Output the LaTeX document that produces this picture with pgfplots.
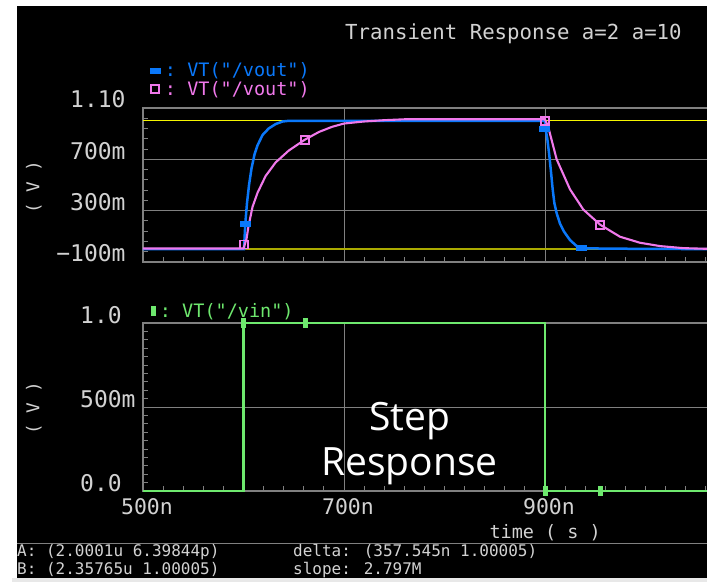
\documentclass[border=0pt]{standalone}
\usepackage{fontspec}
\usepackage{pgfplots}
\pgfplotsset{compat=1.18}
\newfontfamily\cad{DejaVu Sans Mono}
\newfontfamily\stepf{Open Sans}
\definecolor{gridc}{RGB}{128,128,128}
\definecolor{txt}{RGB}{210,210,210}
\definecolor{vblue}{RGB}{10,120,250}
\definecolor{vpink}{RGB}{240,120,235}
\definecolor{vgreen}{RGB}{110,232,110}
\definecolor{ylw}{RGB}{245,245,0}
\definecolor{olv}{RGB}{170,170,0}
\definecolor{stripc}{RGB}{232,232,232}

\pgfplotsset{
  cadaxis/.style={
    scale only axis, width=603pt, xmin=500, xmax=1100, clip=false,
    axis line style={draw=gridc, line width=1.2pt},
    grid=major, major grid style={draw=gridc, line width=0.9pt},
    tick pos=left, tick align=inside,
    major tick length=0pt, minor tick length=5pt,
    every tick/.style={draw=gridc, line width=0.9pt},
    minor x tick num=9,
    xtick={500,700,900,1100},
    ticklabel style={text=txt},
    yticklabel style={font=\cad\fontsize{23}{23}\selectfont, anchor=base west, inner sep=0pt},
    xticklabel style={font=\cad\fontsize{21.5}{21.5}\selectfont, anchor=north, inner sep=0pt, yshift=-7pt, xshift=4pt},
    ylabel={( V )},
    ylabel style={font=\cad\fontsize{17.7}{17.7}\selectfont, text=txt, anchor=center},
    legend style={draw=none, fill=none, inner sep=0pt, outer sep=0pt, row sep=1pt,
      font=\cad\fontsize{18.5}{18.5}\selectfont, nodes={inner sep=1pt},
      /tikz/every odd column/.append style={column sep=4pt}},
    legend cell align=left,
    legend image code/.code={\draw[#1] plot coordinates {(5pt,0pt)};},
  }
}

\begin{document}
\begin{tikzpicture}[x=1pt,y=1pt]
\fill[white] (0,0) rectangle (707,582);
\fill[black] (17,4) rectangle (707,576);
\fill[stripc] (12,0) rectangle (707,4);

% title
\node[anchor=base west, inner sep=0pt, text=txt, font=\cad\fontsize{20.7}{20.7}\selectfont] at (345,542.7) {Transient Response a=2 a=10};

%================ top panel
\begin{axis}[cadaxis,
  at={(143pt,320pt)}, anchor=south west, height=154pt,
  ymin=-0.1, ymax=1.1,
  ytick={-0.1,0.3,0.7,1.1},
  yticklabels={\llap{−}100m,300m,700m,1.10},
  yticklabel style={xshift=-73pt},
  minor y tick num=4,
  xticklabels={},
  ylabel style={at={(axis description cs:-0.181,0.487)}},
  legend style={at={(axis description cs:0.0116,1.30)}, anchor=north west},
]
% cursor lines
\addplot[forget plot, ylw, line width=1.3pt] coordinates {(500,1.0) (1100,1.0)};
\addplot[forget plot, olv, line width=1.6pt] coordinates {(500,0.0) (1100,0.0)};
% blue (a=10)
\addplot[forget plot, vblue, line width=2.5pt] coordinates {
(500,0) (600.5,0) (601.8,0.20) (603.5,0.36) (605.5,0.50) (608,0.63) (611,0.74)
(614,0.81) (619,0.89) (625,0.94) (632,0.975) (639,0.995) (645,1.0) (900,1.0)
(900.3,0.95) (902.3,0.86) (904.3,0.73) (906,0.60) (907.6,0.47) (909.3,0.36)
(911.6,0.28) (914.9,0.20) (918.9,0.137) (924.9,0.071) (931.5,0.024) (941.5,0.006)
(1000,0.002) (1100,0.0)};
% pink (a=2)
\addplot[forget plot, vpink, line width=2.1pt] coordinates {
(500,0.005) (600,0.005) (603,0.08) (605,0.18) (609,0.33) (614,0.44) (622,0.57)
(632,0.676) (645,0.768) (661,0.853) (675,0.913) (688,0.953) (700,0.979) (720,0.995)
(740,1.005) (760,1.012) (900,1.012) (903.3,0.95) (911.6,0.70) (924.9,0.466)
(938.2,0.308) (955,0.19) (974.6,0.097) (994.5,0.05) (1014.4,0.024) (1037.6,0.008)
(1060,0.003) (1100,0.0)};
% markers
\addplot[only marks, mark=square*, color=vblue, mark size=2.5pt, mark options={xscale=2}]
  coordinates {(601.8,0.20) (899.5,0.94) (936.5,0.01)};
\addlegendentry{\textcolor{vblue}{:\ VT("/vout")}}
\addplot[only marks, mark=square, color=vpink, mark size=4pt, mark options={line width=1.8pt}]
  coordinates {(600.2,0.037) (661,0.853) (900,1.0) (955,0.19)};
\addlegendentry{\textcolor{vpink}{:\ VT("/vout")}}
\end{axis}

%================ bottom panel
\begin{axis}[cadaxis,
  at={(143pt,91pt)}, anchor=south west, height=168pt,
  ymin=0, ymax=1,
  ytick={0,0.5,1},
  yticklabels={0.0,500m,1.0},
  yticklabel style={xshift=-63pt},
  minor y tick num=9,
  xticklabels={500n,700n,900n,{}},
  ylabel style={at={(axis description cs:-0.181,0.494)}},
  xlabel={time ( s )},
  xlabel style={at={(axis description cs:0.667,0)}, anchor=base, yshift=-47pt,
    font=\cad\fontsize{18.5}{18.5}\selectfont, text=txt},
  legend style={at={(axis description cs:0.0132,1.125)}, anchor=north west},
]
\addplot[forget plot, vgreen, line width=2.5pt] coordinates {
(500,0) (600,0) (600,1) (900,1) (900,0) (1100,0)};
\addplot[only marks, mark=square*, color=vgreen, mark size=2pt, mark options={yscale=2.2}]
  coordinates {(600,1) (661,1) (900,0) (955,0)};
\addlegendentry{\textcolor{vgreen}{:\ VT("/vin")}}
\end{axis}

% annotation
\node[anchor=base, inner sep=0pt, text=white, font=\stepf\fontsize{39}{39}\selectfont] at (410,152) {Step};
\node[anchor=base, inner sep=0pt, text=white, font=\stepf\fontsize{39}{39}\selectfont] at (409.5,107) {Response};

% status bar
\draw[gridc, line width=1pt] (17,39) -- (707,39);
\begin{scope}[every node/.style={anchor=base west, inner sep=0pt, text=txt, font=\cad\fontsize{16}{16}\selectfont}]
\node at (17,25.3) {A: (2.0001u 6.39844p)};
\node at (17,7.7) {B: (2.35765u 1.00005)};
\node at (293,25.3) {delta: (357.545n 1.00005)};
\node at (293,7.7) {slope: 2.797M};
\end{scope}

\pgfresetboundingbox
\path[use as bounding box] (0,0) rectangle (707,582);
\end{tikzpicture}
\end{document}
